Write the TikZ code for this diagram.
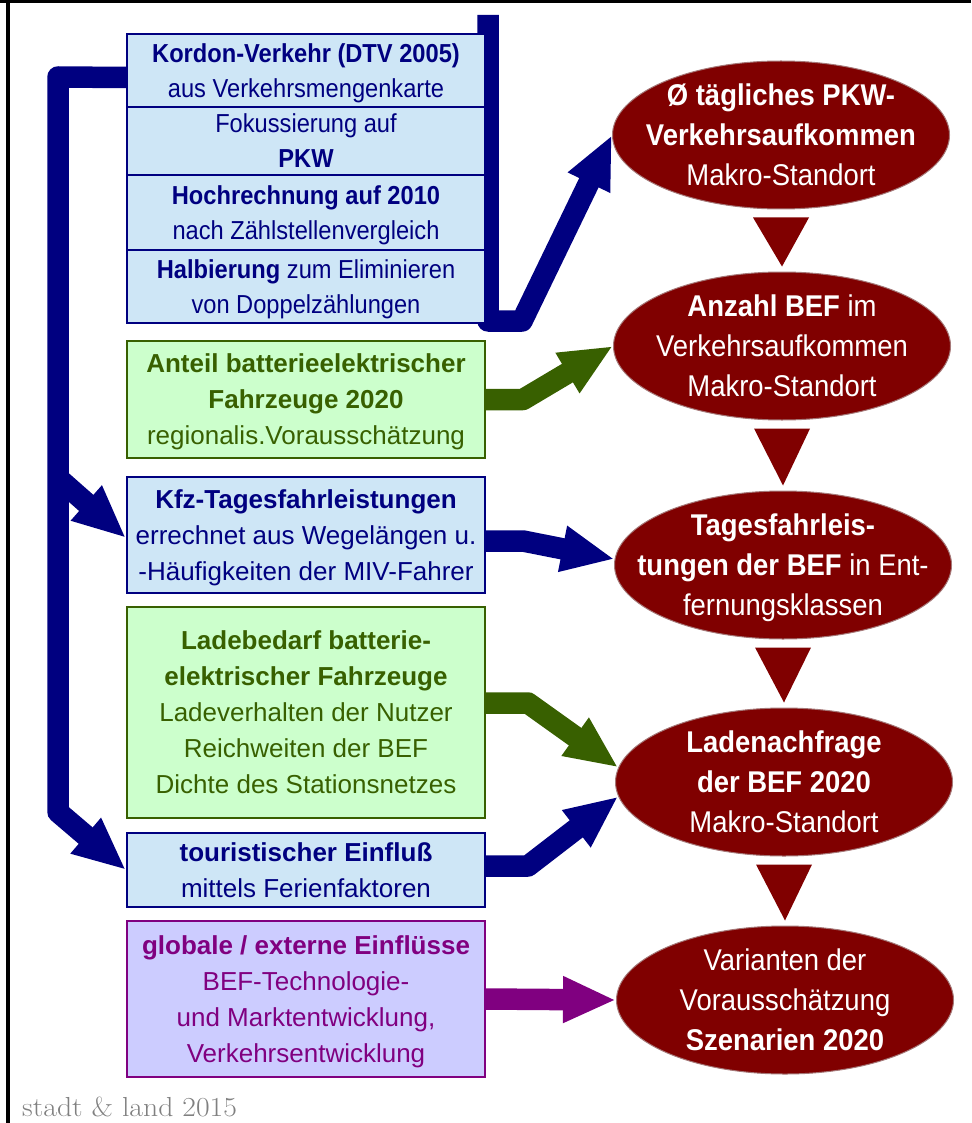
\documentclass[tikz,border=0pt]{standalone}
\usepackage{fontspec}
\usepackage{graphicx}
\usetikzlibrary{arrows.meta,shapes.geometric,calc}

\newfontfamily\boxfont{Liberation Sans}
\newfontfamily\stackfont{Liberation Sans}[FakeStretch=0.91]
\newfontfamily\ellfont{Liberation Sans}[FakeStretch=0.915]

\definecolor{navy}{RGB}{0,0,128}
\definecolor{paleblue}{RGB}{206,230,246}
\definecolor{leaf}{RGB}{56,96,0}
\definecolor{palegreen}{RGB}{204,255,204}
\definecolor{plum}{RGB}{128,0,128}
\definecolor{lilac}{RGB}{204,204,255}
\definecolor{maroon}{RGB}{128,0,0}
\definecolor{rim}{RGB}{165,120,120}

% struts that keep every text line at the same height and depth
\newcommand{\bstrut}{\rule[-6.4pt]{0pt}{31.4pt}}
\newcommand{\estrut}{\rule[-7.5pt]{0pt}{36.5pt}}

\pgfdeclarelayer{background}
\pgfsetlayers{background,main}

\tikzset{
  card/.style={rectangle, draw, line width=2pt, minimum width=358pt, inner sep=0pt, align=center},
  bluecard/.style={card, draw=navy, fill=paleblue, text=navy, font=\boxfont\fontsize{26}{36}\selectfont},
  stackcell/.style={bluecard, font=\stackfont\fontsize{26}{35}\selectfont},
  greencard/.style={card, draw=leaf, fill=palegreen, text=leaf, font=\boxfont\fontsize{26}{36}\selectfont},
  purplecard/.style={card, draw=plum, fill=lilac, text=plum, font=\boxfont\fontsize{26}{36}\selectfont},
  stage/.style={ellipse, fill=maroon, draw=rim, line width=1pt, minimum width=337pt, minimum height=148pt, inner sep=0pt},
  stagetext/.style={text=white, align=center, inner sep=0pt, font=\ellfont\fontsize{30}{40}\selectfont},
  flow/.style={line width=21.5pt, line join=round, -{Triangle[length=53pt,width=43pt]}},
  navyflow/.style={flow, draw=navy},
  leafflow/.style={flow, draw=leaf},
  plumflow/.style={flow, draw=plum},
}

\begin{document}
\begin{tikzpicture}[x=1pt, y=-1pt]
\useasboundingbox (0,0) rectangle (971,1123);

% frame lines along the top and the left edge
\fill[black] (0,0) rectangle (971,3.5);
\fill[black] (5.5,0) rectangle (10,1123);

% input boxes: the stacked traffic-volume derivation
\node[stackcell, minimum height=73pt] (s1) at (306,70.5) {\textbf{Kordon-Verkehr (DTV 2005)}\bstrut\\aus Verkehrsmengenkarte\bstrut};
\node[stackcell, minimum height=68pt] (s2) at (306,141) {Fokussierung auf\bstrut\\\textbf{PKW}\bstrut};
\node[stackcell, minimum height=75pt] (s3) at (306,212.5) {\textbf{Hochrechnung auf 2010}\bstrut\\nach Zählstellenvergleich\bstrut};
\node[stackcell, minimum height=73pt] (s4) at (306,286.5) {\textbf{Halbierung} zum Eliminieren\bstrut\\von Doppelzählungen\bstrut};

% further inputs
\node[greencard, minimum height=117pt] (anteil) at (306,399.5)
  {\textbf{Anteil batterieelektrischer}\bstrut\\\textbf{Fahrzeuge 2020}\bstrut\\regionalis.Vorausschätzung\bstrut};
\node[bluecard, minimum height=116pt] (kfz) at (306,535)
  {\textbf{Kfz-Tagesfahrleistungen}\bstrut\\errechnet aus Wegelängen u.\bstrut\\-Häufigkeiten der MIV-Fahrer\bstrut};
\node[greencard, minimum height=211pt] (lade) at (306,712.5)
  {\textbf{Ladebedarf batterie-}\bstrut\\\textbf{elektrischer Fahrzeuge}\bstrut\\Ladeverhalten der Nutzer\bstrut\\Reichweiten der BEF\bstrut\\Dichte des Stationsnetzes\bstrut};
\node[bluecard, minimum height=74pt] (tour) at (306,870)
  {\textbf{touristischer Einfluß}\bstrut\\mittels Ferienfaktoren\bstrut};
\node[purplecard, minimum height=156pt] (glob) at (306,999)
  {\textbf{globale / externe Einflüsse}\bstrut\\BEF-Technologie-\bstrut\\und Marktentwicklung,\bstrut\\Verkehrsentwicklung\bstrut};

% result stages
\node[stage, label={[stagetext]center:{\textbf{Ø tägliches PKW-}\estrut\\\textbf{Verkehrsaufkommen}\estrut\\Makro-Standort\estrut}}] (e1) at (781,135) {};
\node[stage, label={[stagetext]center:{\textbf{Anzahl BEF} im\estrut\\Verkehrsaufkommen\estrut\\Makro-Standort\estrut}}] (e2) at (782,346) {};
\node[stage, label={[stagetext]center:{\textbf{Tagesfahrleis-}\estrut\\\textbf{tungen der BEF} in Ent-\estrut\\fernungsklassen\estrut}}] (e3) at (783,565) {};
\node[stage, label={[stagetext]center:{\textbf{Ladenachfrage}\estrut\\\textbf{der BEF 2020}\estrut\\Makro-Standort\estrut}}] (e4) at (784,782) {};
\node[stage, label={[stagetext]center:{Varianten der\estrut\\Vorausschätzung\estrut\\\textbf{Szenarien 2020}\estrut}}] (e5) at (785,1000) {};

% downward triangles linking the stages
\foreach \a/\b in {e1/e2,e2/e3,e3/e4,e4/e5}
  \fill[maroon] ($(\a.south)+(-28,8)$) -- ($(\a.south)+(28,8)$) -- ($(\b.north)+(0,-5)$) -- cycle;

% footer
\node[anchor=base west, inner sep=0pt, text=gray, font=\fontsize{27.5}{30}\selectfont] (credit) at (22,1116) {\scalebox{1.08}[1]{stadt \& land 2015}};

% block arrows behind the boxes
\begin{pgfonlayer}{background}
  \coordinate (feed) at (488,15);
  \draw[navyflow] (feed) -- (488,321) -- (522,321) -- (e1.west);
  \draw[navyflow] ([yshift=-7pt]s1.west) -- (58,77) -- (58,812) -- (tour.west);
  \draw[navyflow] (58,478) -- ([yshift=-3pt]kfz.west);
  \draw[leafflow] (anteil.east) -- ++(37,0) -- (e2.west);
  \draw[navyflow] ([yshift=-6pt]kfz.east) -- ++(37,0) -- (e3.178);
  \draw[leafflow] ([yshift=9.5pt]lade.east) -- ++(42,0) -- (e4.175);
  \draw[navyflow] ([yshift=4pt]tour.east) -- ++(42,0) -- (e4.185);
  \draw[plumflow] (glob.east) -- (e5.west);
\end{pgfonlayer}
\end{tikzpicture}
\end{document}
